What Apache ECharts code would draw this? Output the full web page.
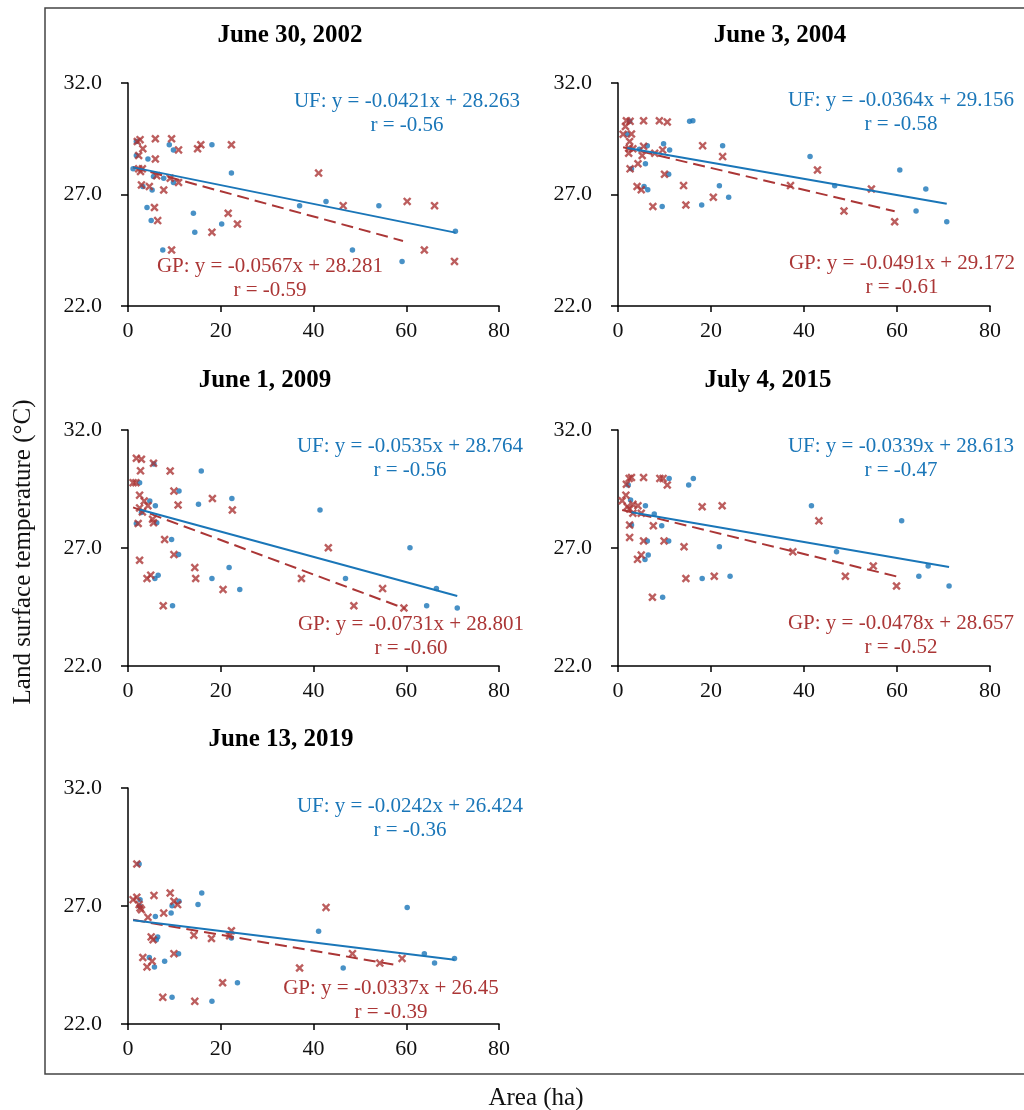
<!DOCTYPE html>
<html>
<head>
<meta charset="utf-8">
<script src="https://cdn.jsdelivr.net/npm/echarts/dist/echarts.min.js"></script>
<style>
  html, body { margin: 0; padding: 0; background: #fff; }
  #chart { width: 1024px; height: 1110px; }
</style>
</head>
<body>
<div id="chart"></div>
<script>
// ---- data -------------------------------------------------------------
const panelTitles = ['June 30, 2002', 'June 3, 2004', 'June 1, 2009', 'July 4, 2015', 'June 13, 2019'];

const xTicks = [0, 20, 40, 60, 80];
const yTicks = [22.0, 27.0, 32.0];

// Urban forest (UF) patches: [area ha, LST °C]
const uf2002 = [[1.1,28.15],[1.8,28.75],[1.8,29.38],[4.3,28.59],[3.2,27.36],[5.2,27.2],[4.1,26.42],[5.0,25.83],[5.5,27.81],[7.7,27.73],[7.5,24.51],[8.9,29.23],[9.8,29.0],[9.8,27.54],[14.1,26.16],[14.4,25.31],[18.1,29.23],[20.2,25.68],[22.3,27.96],[37.0,26.5],[42.7,26.69],[48.4,24.51],[54.1,26.5],[59.1,24.0],[70.6,25.35]];
const uf2004 = [[2.5,30.28],[2.0,29.7],[2.9,28.15],[6.3,29.19],[5.9,28.38],[5.6,27.36],[6.4,27.21],[9.8,29.28],[11.1,29.0],[10.9,27.91],[9.5,26.46],[15.4,30.28],[16.1,30.31],[18.0,26.53],[21.8,27.39],[22.5,29.19],[23.8,26.88],[41.3,28.7],[46.6,27.39],[60.6,28.1],[66.2,27.25],[64.1,26.26],[70.7,25.78],[4.6,29.03]];
const uf2009 = [[2.5,29.77],[4.7,28.99],[5.9,28.79],[6.2,28.07],[5.8,25.71],[6.5,25.85],[5.6,30.56],[9.4,27.36],[11.0,29.41],[10.9,26.72],[9.6,24.55],[15.8,30.26],[15.2,28.85],[18.1,25.71],[21.8,26.17],[22.4,29.1],[24.1,25.24],[41.4,28.61],[46.9,25.71],[60.8,27.01],[64.4,24.55],[66.5,25.28],[71.0,24.46],[2.9,28.5],[1.8,28.04]];
const uf2015 = [[2.2,29.67],[2.7,29.03],[2.9,27.97],[5.9,28.79],[6.3,27.3],[6.5,26.7],[5.8,26.51],[7.8,28.44],[9.4,27.94],[11.0,29.95],[10.9,27.3],[9.6,24.91],[15.2,29.67],[16.2,29.95],[18.1,25.71],[21.8,27.05],[24.1,25.8],[41.6,28.79],[47.0,26.84],[61.0,28.15],[64.7,25.8],[66.7,26.24],[71.2,25.39]];
const uf2019 = [[2.4,28.78],[2.6,27.27],[2.5,26.99],[5.9,26.56],[6.4,25.69],[6.1,25.57],[4.6,24.82],[5.7,24.42],[7.9,24.66],[9.3,26.7],[9.5,27.01],[11.0,27.2],[10.9,24.98],[9.5,23.13],[15.1,27.06],[15.9,27.55],[18.1,22.96],[22.3,25.64],[23.6,23.75],[41.1,25.93],[46.4,24.37],[60.2,26.94],[63.9,24.98],[66.1,24.58],[70.4,24.78]];

// Green park (GP) patches: [area ha, LST °C]
const gp2002 = [[2.0,29.38],[2.6,29.46],[3.2,29.05],[2.3,28.75],[2.3,28.15],[3.1,28.15],[2.7,28.03],[2.9,27.43],[4.6,27.36],[5.9,29.5],[5.9,28.59],[6.2,27.84],[7.7,27.2],[5.7,26.42],[6.4,25.83],[9.4,29.5],[9.1,27.73],[10.9,29.0],[10.9,27.54],[9.4,24.51],[15.0,29.05],[15.7,29.23],[18.1,25.31],[21.6,26.16],[22.3,29.23],[23.6,25.68],[41.1,27.96],[46.4,26.5],[60.2,26.69],[63.9,24.51],[66.1,26.5],[70.4,24.0]];
const gp2004 = [[1.1,29.7],[1.8,30.31],[1.6,30.05],[2.6,30.28],[2.9,29.71],[2.5,29.38],[2.4,29.07],[3.2,29.05],[2.3,28.85],[2.6,28.15],[4.3,28.38],[4.1,27.36],[5.0,27.21],[5.2,28.75],[5.5,29.16],[5.5,30.31],[7.5,26.46],[7.9,28.85],[8.9,30.31],[10.6,30.25],[9.6,29.0],[10.0,27.91],[14.1,27.4],[14.6,26.53],[18.2,29.19],[20.5,26.88],[22.5,28.7],[37.1,27.4],[42.9,28.1],[48.6,26.26],[54.5,27.25],[59.5,25.78]];
const gp2009 = [[1.8,30.8],[2.9,30.76],[2.7,30.27],[1.1,29.77],[1.7,29.77],[2.5,29.24],[3.5,28.99],[2.5,28.7],[3.1,28.53],[4.3,28.79],[2.2,28.04],[2.5,26.48],[4.1,25.71],[4.9,25.85],[5.3,28.22],[5.5,28.07],[5.5,30.59],[7.9,27.36],[7.6,24.55],[9.1,30.26],[9.9,29.41],[9.9,26.72],[10.8,28.82],[14.4,26.17],[14.6,25.71],[18.2,29.1],[20.5,25.24],[22.5,28.61],[37.4,25.71],[43.2,27.01],[48.7,24.55],[54.9,25.28],[59.5,24.46]];
const gp2015 = [[0.9,29.0],[1.7,29.24],[1.8,29.7],[2.4,29.95],[2.9,29.99],[2.0,28.75],[2.5,28.65],[3.2,28.85],[3.2,28.47],[4.3,28.79],[5.0,28.47],[2.5,27.97],[2.5,27.45],[4.2,26.52],[5.0,26.7],[5.5,27.3],[5.5,29.99],[7.6,27.94],[7.4,24.91],[9.0,29.95],[9.7,29.95],[10.6,29.67],[9.9,27.3],[14.2,27.05],[14.6,25.71],[18.1,28.75],[20.7,25.8],[22.4,28.79],[37.6,26.84],[43.2,28.15],[48.9,25.8],[54.9,26.24],[59.9,25.39]];
const gp2019 = [[1.9,28.78],[1.1,27.27],[1.9,27.37],[2.4,27.06],[2.6,26.92],[2.9,26.84],[4.3,26.52],[3.2,24.82],[4.1,24.42],[5.0,25.69],[5.4,25.57],[5.2,24.66],[5.6,27.45],[7.7,26.7],[7.5,23.13],[9.1,27.55],[9.9,27.2],[10.7,27.06],[9.9,24.98],[14.2,25.76],[14.4,22.96],[18.0,25.62],[20.4,23.75],[22.3,25.95],[21.9,25.74],[37.0,24.37],[42.7,26.94],[48.4,24.98],[54.3,24.58],[59.1,24.78]];

// Linear fits as printed on each panel
const ufSlope     = [-0.0421, -0.0364, -0.0535, -0.0339, -0.0242];
const ufIntercept = [28.263, 29.156, 28.764, 28.613, 26.424];
const ufR         = ['-0.56', '-0.58', '-0.56', '-0.47', '-0.36'];
const gpSlope     = [-0.0567, -0.0491, -0.0731, -0.0478, -0.0337];
const gpIntercept = [28.281, 29.172, 28.801, 28.657, 26.45];
const gpR         = ['-0.59', '-0.61', '-0.60', '-0.52', '-0.39'];
// x extent over which each fit line is drawn
const ufSpan = [[1.1, 70.6], [2.0, 70.7], [2.5, 71.0], [2.9, 71.2], [1.1, 70.4]];
const gpSpan = [[1.1, 59.3], [1.1, 59.5], [1.1, 59.8], [0.9, 59.9], [1.1, 58.0]];

const ufData = [uf2002, uf2004, uf2009, uf2015, uf2019];
const gpData = [gp2002, gp2004, gp2009, gp2015, gp2019];

// ---- layout & style --------------------------------------------------
const FONT = '"Liberation Serif", "Times New Roman", serif';
const BLUE = '#1a76b8';
const RED = '#ab3636';
const grids = [
  { left: 128, top: 83,  width: 371, height: 223 },
  { left: 618, top: 83,  width: 372, height: 223 },
  { left: 128, top: 430, width: 371, height: 236 },
  { left: 618, top: 430, width: 372, height: 236 },
  { left: 128, top: 788, width: 371, height: 236 }
];
const titlePos = [[290, 36], [780, 36], [265, 381], [768, 381], [281, 740]];
const ufTextPos = [[407, 113], [901, 112], [410, 458], [901, 458], [410, 818]];
const gpTextPos = [[270, 278], [902, 275], [411, 636], [901, 635], [391, 1000]];

// filled "x" glyph used for GP markers
const crossPath = 'path://M0,2L2,0L5,3L8,0L10,2L7,5L10,8L8,10L5,7L2,10L0,8L3,5Z';

const xAxes = [], yAxes = [], series = [], graphics = [];

grids.forEach((g, i) => {
  xAxes.push({
    type: 'value', gridIndex: i,
    min: xTicks[0], max: xTicks[xTicks.length - 1], interval: xTicks[1] - xTicks[0],
    axisLine: { show: true, onZero: false, lineStyle: { color: '#000', width: 1.5 } },
    axisTick: { show: true, length: 6, lineStyle: { color: '#000', width: 1.5 } },
    axisLabel: { color: '#111', fontFamily: FONT, fontSize: 22, margin: 14 },
    splitLine: { show: false }
  });
  yAxes.push({
    type: 'value', gridIndex: i,
    min: yTicks[0], max: yTicks[yTicks.length - 1], interval: yTicks[1] - yTicks[0],
    axisLine: { show: true, onZero: false, lineStyle: { color: '#000', width: 1.5 } },
    axisTick: { show: true, length: 7, lineStyle: { color: '#000', width: 1.5 } },
    axisLabel: { color: '#111', fontFamily: FONT, fontSize: 22, margin: 26,
                 formatter: v => v.toFixed(1) },
    splitLine: { show: false }
  });

  series.push({
    type: 'scatter', name: 'UF', xAxisIndex: i, yAxisIndex: i,
    data: ufData[i], symbol: 'circle', symbolSize: 5.5,
    itemStyle: { color: BLUE }, z: 2
  });
  series.push({
    type: 'scatter', name: 'GP', xAxisIndex: i, yAxisIndex: i,
    data: gpData[i], symbol: crossPath, symbolSize: 8.5,
    itemStyle: { color: RED }, z: 3
  });

  const ufLine = ufSpan[i].map(x => [x, ufSlope[i] * x + ufIntercept[i]]);
  const gpLine = gpSpan[i].map(x => [x, gpSlope[i] * x + gpIntercept[i]]);
  series.push({
    type: 'line', xAxisIndex: i, yAxisIndex: i, data: gpLine,
    showSymbol: false, silent: true, z: 4,
    lineStyle: { color: RED, width: 2, type: [12, 6] }
  });
  series.push({
    type: 'line', xAxisIndex: i, yAxisIndex: i, data: ufLine,
    showSymbol: false, silent: true, z: 5,
    lineStyle: { color: BLUE, width: 2 }
  });

  graphics.push({
    type: 'text', x: titlePos[i][0], y: titlePos[i][1],
    style: { text: panelTitles[i], fill: '#000', font: 'bold 25px ' + FONT,
             textAlign: 'center', textVerticalAlign: 'middle' }
  });
  graphics.push({
    type: 'text', x: ufTextPos[i][0], y: ufTextPos[i][1],
    style: { text: 'UF: y = ' + ufSlope[i] + 'x + ' + ufIntercept[i] + '\nr = ' + ufR[i],
             fill: BLUE, font: '21px ' + FONT, lineHeight: 24,
             textAlign: 'center', textVerticalAlign: 'middle' }
  });
  graphics.push({
    type: 'text', x: gpTextPos[i][0], y: gpTextPos[i][1],
    style: { text: 'GP: y = ' + gpSlope[i] + 'x + ' + gpIntercept[i] + '\nr = ' + gpR[i],
             fill: RED, font: '21px ' + FONT, lineHeight: 24,
             textAlign: 'center', textVerticalAlign: 'middle' }
  });
});

// frame around the panel block
graphics.push({
  type: 'rect', shape: { x: 45, y: 8, width: 1000, height: 1066 },
  style: { fill: 'none', stroke: '#444', lineWidth: 1.5 }, z: -1
});
// shared axis titles
graphics.push({
  type: 'text', x: 23, y: 552, rotation: Math.PI / 2,
  style: { text: 'Land surface temperature (°C)', fill: '#111', font: '25px ' + FONT,
           textAlign: 'center', textVerticalAlign: 'middle' }
});
graphics.push({
  type: 'text', x: 536, y: 1098,
  style: { text: 'Area (ha)', fill: '#111', font: '25px ' + FONT,
           textAlign: 'center', textVerticalAlign: 'middle' }
});

const chart = echarts.init(document.getElementById('chart'), null, { renderer: 'canvas' });
chart.setOption({
  animation: false,
  backgroundColor: '#fff',
  grid: grids.map(g => Object.assign({ containLabel: false }, g)),
  xAxis: xAxes,
  yAxis: yAxes,
  series: series,
  graphic: graphics
});
</script>
</body>
</html>
